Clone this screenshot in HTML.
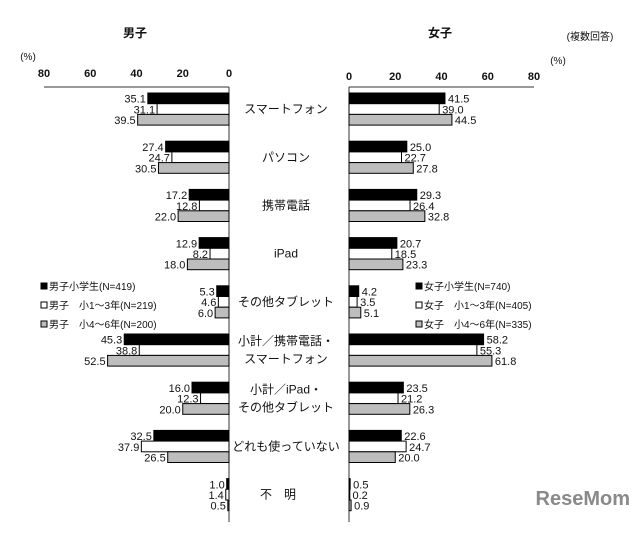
<!DOCTYPE html>
<html><head><meta charset="utf-8"><style>
body{margin:0;background:#fff;width:640px;height:528px;overflow:hidden}
svg text{font-family:"Liberation Sans","Noto Sans CJK JP",sans-serif;fill:#111}
</style></head><body>
<svg id="c" width="640" height="528"></svg>
<script>
const categories=["スマートフォン","パソコン","携帯電話","iPad","その他タブレット","小計／携帯電話・\nスマートフォン","小計／iPad・\nその他タブレット","どれも使っていない","不　明"];
const boysAll=[35.1,27.4,17.2,12.9,5.3,45.3,16.0,32.5,1.0];
const boysLow=[31.1,24.7,12.8,8.2,4.6,38.8,12.3,37.9,1.4];
const boysHigh=[39.5,30.5,22.0,18.0,6.0,52.5,20.0,26.5,0.5];
const girlsAll=[41.5,25.0,29.3,20.7,4.2,58.2,23.5,22.6,0.5];
const girlsLow=[39.0,22.7,26.4,18.5,3.5,55.3,21.2,24.7,0.2];
const girlsHigh=[44.5,27.8,32.8,23.3,5.1,61.8,26.3,20.0,0.9];
const ticks=[0,20,40,60,80];
const boysLegend=["男子小学生(N=419)","男子　小1～3年(N=219)","男子　小4～6年(N=200)"];
const girlsLegend=["女子小学生(N=740)","女子　小1～3年(N=405)","女子　小4～6年(N=335)"];

const svg=document.getElementById('c');
const NS='http://www.w3.org/2000/svg';
function mk(t,a,txt){const e=document.createElementNS(NS,t);for(const k in a)e.setAttribute(k,a[k]);if(txt!=null)e.textContent=txt;svg.appendChild(e);return e;}
const S=185/80;
const xL=v=>229-v*S, xR=v=>349+v*S;
const top0=87, pitch=48.2, bh=10.7;
const bandY=i=>top0+i*pitch+6;
const fills=["#000","#fff","#bdbdbd"];

let e;
e=mk('text',{x:135,y:37,'font-size':12,'text-anchor':'middle','font-weight':'bold'},'男子');

e=mk('text',{x:440,y:37,'font-size':12,'text-anchor':'middle','font-weight':'bold'},'女子');

e=mk('text',{x:590,y:40,'font-size':10,'text-anchor':'middle'},'(複数回答)');

e=mk('text',{x:28,y:60,'font-size':10,'text-anchor':'middle'},'(%)');

e=mk('text',{x:558,y:64,'font-size':10,'text-anchor':'middle'},'(%)');


e=mk('line',{x1:xL(80),y1:top0,x2:229,y2:top0,stroke:'#333','stroke-width':1});

e=mk('line',{x1:349,y1:top0,x2:xR(80),y2:top0,stroke:'#333','stroke-width':1});

e=mk('line',{x1:229,y1:top0,x2:229,y2:522,stroke:'#333','stroke-width':1});

e=mk('line',{x1:349,y1:top0,x2:349,y2:522,stroke:'#333','stroke-width':1});

ticks.forEach(t=>{
  e=mk('text',{x:xL(t),y:77,'font-size':11,'text-anchor':'middle','font-weight':'bold'},String(t));
  
  e=mk('text',{x:xR(t),y:80,'font-size':11,'text-anchor':'middle','font-weight':'bold'},String(t));
  
});

categories.forEach((c,i)=>{
  const y0=bandY(i);
  const bs=[boysAll[i],boysLow[i],boysHigh[i]], gs=[girlsAll[i],girlsLow[i],girlsHigh[i]];
  for(let s=0;s<3;s++){
    const y=y0+s*bh;
    e=mk('rect',{x:xL(bs[s]),y:y,width:Math.max(bs[s]*S,0.8),height:bh,fill:fills[s],stroke:'#000','stroke-width':1});
    
    e=mk('text',{x:xL(bs[s])-2,y:y+bh-1,'font-size':11,'text-anchor':'end'},bs[s].toFixed(1));
    
    e=mk('rect',{x:349,y:y,width:Math.max(gs[s]*S,0.8),height:bh,fill:fills[s],stroke:'#000','stroke-width':1});
    
    e=mk('text',{x:xR(gs[s])+3,y:y+bh-1,'font-size':11},gs[s].toFixed(1));
    
  }
  const lines=c.split('\n');
  const cy=y0+bh*1.5;
  lines.forEach((l,k)=>{
    e=mk('text',{x:i===8?260:286,y:cy+4+(k-(lines.length-1)/2)*18,'font-size':12,'text-anchor':'middle','xml:space':'preserve'},l);
    if(i===8)e.setAttribute('text-anchor','start');
    
  });
});

[[boysLegend,41],[girlsLegend,416]].forEach(([lg,x])=>{
  lg.forEach((t,s)=>{
    const y=290+s*19;
    e=mk('rect',{x:x,y:y-7,width:6,height:6,fill:fills[s],stroke:'#000','stroke-width':1});
    
    e=mk('text',{x:x+8,y:y,'font-size':10,'xml:space':'preserve'},t);
    
  });
});

e=mk('text',{x:630,y:505,'font-size':20,'text-anchor':'end','font-weight':'bold'},'ReseMom');
e.style.fill='#8a8a8a';

</script>
</body></html>
